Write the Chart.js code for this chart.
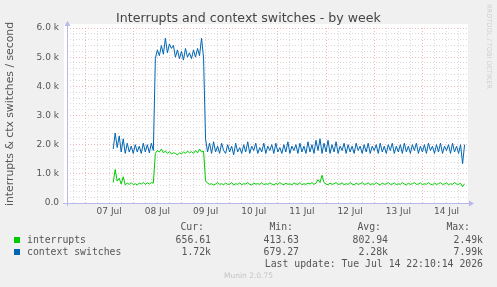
<!DOCTYPE html>
<html>
<head>
<meta charset="utf-8">
<script src="https://cdn.jsdelivr.net/npm/chart.js@4/dist/chart.umd.min.js"></script>
<style>
  body { margin: 0; background: #f0f0f0; }
  #wrap { position: relative; width: 497px; height: 287px; overflow: hidden; }
  canvas { position: absolute; left: 0; top: 0; }
  .t { position: absolute; white-space: pre; }
  #title { left: 0; width: 497px; top: 10px; text-align: center; font: 12.6px 'DejaVu Sans'; color: #444; line-height: 15px; }
  #ylabel { left: -110px; top: 108px; width: 240px; height: 12px; text-align: center; font: 10.8px 'DejaVu Sans'; color: #555;
            line-height: 12px; transform: rotate(-90deg); }
  .mono { font: 9.8px 'DejaVu Sans Mono'; color: #555; line-height: 12px; }
  .sq { position: absolute; width: 6px; height: 6px; left: 14px; }
  #munin { left: 0; width: 497px; text-align: center; top: 271px; font: 7.5px 'DejaVu Sans'; color: #c4c4c4; }
  #rrd { left: 485px; top: 4px; writing-mode: vertical-rl; font: 6.6px 'DejaVu Sans'; color: #cfcfcf; }
</style>
</head>
<body>
<div id="wrap">
  <canvas id="chart" width="497" height="287"></canvas>
  <div class="t" id="title">Interrupts and context switches - by week</div>
  <div class="t" id="ylabel">interrupts &amp; ctx switches / second</div>
  <div class="t" id="rrd">RRDTOOL / TOBI OETIKER</div>
  <div id="legend"></div>
  <div class="t" id="munin">Munin 2.0.75</div>
</div>
<script>
// First sample is Jul 7 14:00, one sample per hour (hours counted from Jul 6 00:00)
const START_HOUR = 38;

const CTX_SWITCHES = [
  1850, 2400, 1900, 2300, 1750, 2200, 1700, 2050, 1750, 1950, 1700, 2000, 1750, 1950, 1700, 2050, 1750, 2000, 1720, 2050, 1800,
  4950, 5250, 5050, 5400, 5100, 5650, 5150, 5450, 5300, 5400, 5000, 5250, 4950, 5200, 4900, 5300, 5000, 5150, 4950, 5250, 5000, 5300, 5050, 5650, 5000,
  2200, 1750, 2050, 1700, 2100, 1750, 1950, 1700, 2050, 1800,
  1700, 2000, 1750, 1950, 1650, 2050, 1750, 1900, 1700, 2000,
  1750, 2100, 1700, 1950, 1800, 2050, 1700, 1900, 1750, 2050,
  1700, 1950, 1800, 2000, 1700, 2050, 1750, 1900, 1700, 2000,
  1750, 2100, 1700, 1950, 1800, 2000, 1700, 2050, 1750, 1950,
  1700, 2100, 1750, 2000, 1700, 2150, 1800, 2200, 1700, 2050,
  1750, 2150, 1700, 2000, 1750, 2100, 1700, 1950, 1800, 2050,
  1700, 2000, 1750, 1950, 1700, 2050, 1800, 1950, 1700, 2000,
  1750, 2050, 1700, 1950, 1800, 2000, 1700, 2050, 1750, 1950,
  1700, 2000, 1800, 2050, 1700, 1950, 1750, 2000, 1700, 2050,
  1750, 1950, 1700, 2000, 1800, 2050, 1700, 1950, 1750, 2000,
  1700, 2050, 1800, 1950, 1700, 2000, 1750, 2050, 1700, 1950,
  1800, 2000, 1700, 2050, 1750, 1950, 1700, 2000, 1350, 2000,
];

const INTERRUPTS = [
  700, 1150, 750, 850, 650, 900, 620, 680, 640, 700, 630, 660, 620, 680, 650, 700, 640, 690, 650, 700, 680,
  1700, 1800, 1750, 1850, 1720, 1780, 1700, 1760, 1680, 1720, 1700, 1650, 1720, 1690, 1750, 1700, 1780, 1720, 1760, 1700, 1800, 1720, 1850, 1750, 1780,
  760, 680, 640, 660, 620, 650, 700, 640, 660, 630,
  680, 640, 650, 700, 620, 660, 640, 690, 630, 660,
  650, 700, 640, 620, 680, 650, 660, 640, 700, 630,
  660, 640, 690, 650, 620, 670, 640, 700, 650, 630,
  680, 640, 660, 620, 690, 650, 640, 700, 630, 660,
  640, 680, 650, 700, 640, 680, 800, 700, 950, 700,
  650, 630, 680, 640, 660, 700, 640, 650, 690, 630,
  660, 640, 700, 650, 620, 680, 640, 660, 700, 640,
  650, 690, 630, 660, 640, 700, 650, 620, 680, 640,
  660, 700, 640, 650, 690, 630, 660, 640, 700, 650,
  620, 680, 640, 660, 700, 640, 650, 690, 630, 660,
  640, 700, 650, 620, 680, 640, 660, 700, 640, 650,
  690, 630, 660, 640, 700, 650, 640, 680, 560, 660,
];

const DAY_LABELS = ["07 Jul", "08 Jul", "09 Jul", "10 Jul", "11 Jul", "12 Jul", "13 Jul", "14 Jul"];
const Y_TICK_LABELS = ["0.0", "1.0 k", "2.0 k", "3.0 k", "4.0 k", "5.0 k", "6.0 k"];

const SERIES_NAMES = ["interrupts", "context switches"];
const SERIES_COLORS = ["#00cc00", "#0066b3"];
const CUR = ["656.61", "1.72k"];
const MIN = ["413.63", "679.27"];
const AVG = ["802.94", "2.28k"];
const MAX = ["2.49k", "7.99k"];

const MAJOR_GRID = "rgba(232,140,140,0.6)";
const MINOR_GRID = "#dadada";

// Legend / stats block below the plot
function buildLegend() {
  const box = document.getElementById("legend");
  const headEdges = [204, 293, 381, 470];
  const valEdges = [211, 299, 388, 483];
  let html = "";
  ["Cur:", "Min:", "Avg:", "Max:"].forEach((h, i) => {
    html += `<div class="t mono" style="top:221px;right:${497 - headEdges[i]}px">${h}</div>`;
  });
  SERIES_NAMES.forEach((name, s) => {
    const top = 234 + s * 12;
    html += `<div class="sq" style="top:${top + 3}px;background:${SERIES_COLORS[s]}"></div>`;
    html += `<div class="t mono" style="top:${top}px;left:27px">${name}</div>`;
    [CUR[s], MIN[s], AVG[s], MAX[s]].forEach((v, i) => {
      html += `<div class="t mono" style="top:${top}px;right:${497 - valEdges[i]}px">${v}</div>`;
    });
  });
  html += `<div class="t mono" style="top:258px;right:14px">Last update: Tue Jul 14 22:10:14 2026</div>`;
  box.innerHTML = html;
}

// White plot background
const plotBackground = {
  id: "plotBackground",
  beforeDraw(chart) {
    const { ctx, chartArea: a } = chart;
    ctx.save();
    ctx.fillStyle = "#ffffff";
    ctx.fillRect(a.left - 3, a.top - 4, a.right - a.left + 3, a.bottom - a.top + 5);
    ctx.restore();
  },
};

// Munin style axis lines with arrow heads
const axisArrows = {
  id: "axisArrows",
  beforeDatasetsDraw(chart) {
    const { ctx, chartArea: a } = chart;
    const c = "#b8b8ec";
    ctx.save();
    ctx.strokeStyle = c;
    ctx.fillStyle = c;
    ctx.lineWidth = 1;
    ctx.beginPath();
    ctx.moveTo(a.left - 4, a.bottom + 0.5);
    ctx.lineTo(a.right + 2, a.bottom + 0.5);
    ctx.moveTo(a.left + 0.5, a.bottom + 3);
    ctx.lineTo(a.left + 0.5, a.top - 2);
    ctx.stroke();
    ctx.beginPath();
    ctx.moveTo(a.right + 6, a.bottom + 0.5);
    ctx.lineTo(a.right + 1, a.bottom - 2.5);
    ctx.lineTo(a.right + 1, a.bottom + 3.5);
    ctx.fill();
    ctx.beginPath();
    ctx.moveTo(a.left + 0.5, a.top - 7);
    ctx.lineTo(a.left - 2.5, a.top - 2);
    ctx.lineTo(a.left + 3.5, a.top - 2);
    ctx.fill();
    ctx.restore();
  },
};

const toPoints = (arr) => arr.map((v, i) => ({ x: START_HOUR + i, y: v }));

window.onload = () => {
  buildLegend();

  new Chart(document.getElementById("chart"), {
    type: "line",
    data: {
      datasets: [
        {
          label: SERIES_NAMES[0],
          data: toPoints(INTERRUPTS),
          borderColor: SERIES_COLORS[0],
          borderWidth: 1,
          pointRadius: 0,
          tension: 0,
        },
        {
          label: SERIES_NAMES[1],
          data: toPoints(CTX_SWITCHES),
          borderColor: SERIES_COLORS[1],
          borderWidth: 1,
          pointRadius: 0,
          tension: 0,
        },
      ],
    },
    options: {
      responsive: false,
      animation: false,
      devicePixelRatio: 1,
      layout: { padding: { left: 0, top: 28, right: 29, bottom: 64 } },
      plugins: {
        legend: { display: false },
        title: { display: false },
        tooltip: { enabled: false },
      },
      scales: {
        x: {
          type: "linear",
          min: 15,
          max: 214.7,
          afterBuildTicks: (scale) => {
            const ticks = [];
            for (let h = 18; h <= 210; h += 6) ticks.push({ value: h });
            scale.ticks = ticks;
          },
          afterFit: (scale) => { scale.height = 20; },
          ticks: {
            autoSkip: false,
            maxRotation: 0,
            padding: 3,
            color: "#555",
            font: { family: "DejaVu Sans", size: 9 },
            callback: (v) => (v % 24 === 12 ? DAY_LABELS[(v - 36) / 24] : ""),
          },
          grid: {
            drawTicks: false,
            color: (ctx) => (ctx.tick && ctx.tick.value % 24 === 0 ? MAJOR_GRID : MINOR_GRID),
          },
          border: { display: false, dash: [1, 2] },
        },
        y: {
          min: 0,
          max: 6000,
          afterBuildTicks: (scale) => {
            const ticks = [];
            for (let v = 0; v <= 6000; v += 200) ticks.push({ value: v });
            scale.ticks = ticks;
          },
          afterFit: (scale) => { scale.width = 67; },
          ticks: {
            autoSkip: false,
            padding: 8,
            color: "#555",
            font: { family: "DejaVu Sans", size: 9 },
            callback: (v) => (v % 1000 === 0 ? Y_TICK_LABELS[v / 1000] : ""),
          },
          grid: {
            drawTicks: false,
            color: (ctx) => (ctx.tick && ctx.tick.value % 1000 === 0 ? MAJOR_GRID : MINOR_GRID),
          },
          border: { display: false, dash: [1, 2] },
        },
      },
    },
    plugins: [plotBackground, axisArrows],
  });
};
</script>
</body>
</html>
